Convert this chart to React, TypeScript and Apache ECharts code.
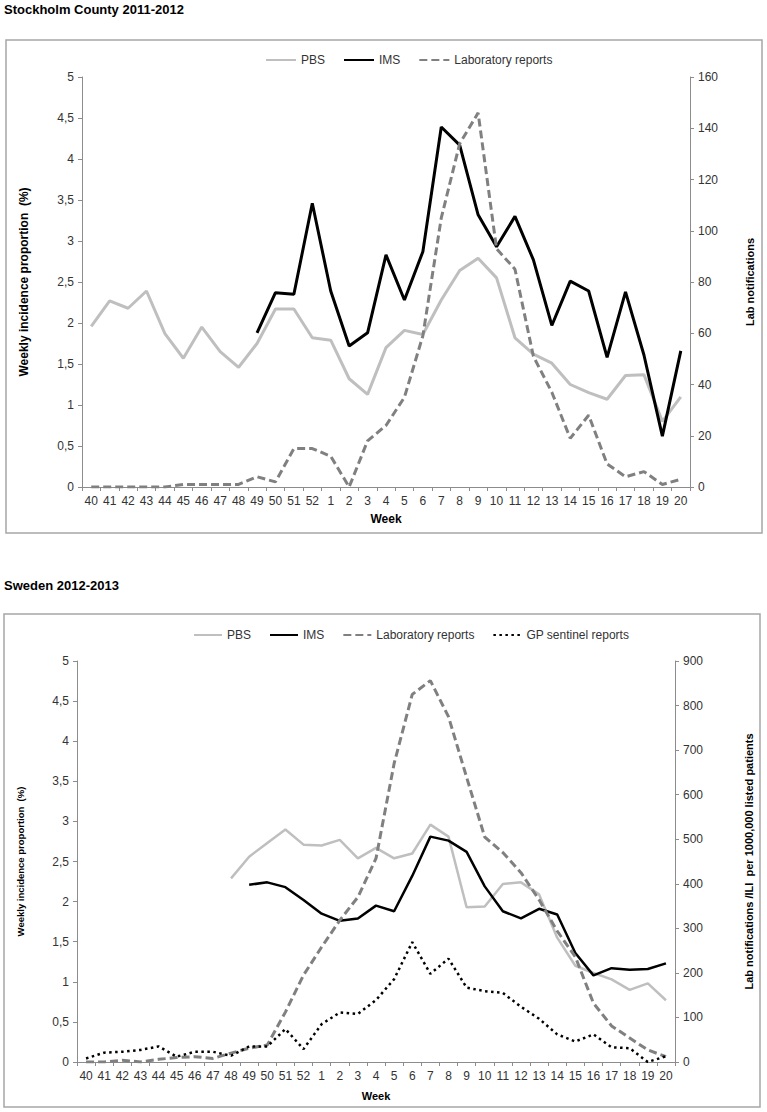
import React, { useEffect, useRef } from "react";
import * as echarts from "echarts";

const weeks = [
  "40", "41", "42", "43", "44", "45", "46", "47", "48", "49", "50", "51", "52",
  "1", "2", "3", "4", "5", "6", "7", "8", "9", "10", "11", "12", "13", "14", "15", "16", "17", "18", "19", "20",
];

// Stockholm County 2011-2012
const stockholmPBS = [
  1.96, 2.27, 2.18, 2.39, 1.87, 1.57, 1.95, 1.65, 1.46, 1.75, 2.17, 2.17, 1.82,
  1.79, 1.32, 1.13, 1.7, 1.91, 1.86, 2.28, 2.64, 2.79, 2.55, 1.82, 1.62, 1.51, 1.25, 1.15, 1.07, 1.36, 1.37, 0.8, 1.1,
];
const stockholmIMS = [
  null, null, null, null, null, null, null, null, null, 1.88, 2.37, 2.35, 3.46,
  2.39, 1.72, 1.88, 2.83, 2.28, 2.87, 4.39, 4.17, 3.32, 2.93, 3.3, 2.77, 1.97, 2.51, 2.39, 1.58, 2.38, 1.61, 0.62, 1.66,
];
const stockholmLab = [
  0, 0, 0, 0, 0, 1, 1, 1, 1, 4, 2, 15, 15,
  12, 0, 18, 24, 35, 59, 105, 134, 146, 93, 85, 51, 37, 19, 28, 9, 4, 6, 1, 3,
];

// Sweden 2012-2013
const swedenPBS = [
  null, null, null, null, null, null, null, null, 2.29, 2.56, 2.73, 2.9, 2.71,
  2.7, 2.77, 2.54, 2.67, 2.54, 2.6, 2.96, 2.81, 1.93, 1.94, 2.22, 2.24, 2.09, 1.55, 1.2, 1.11, 1.03, 0.9, 0.98, 0.77,
];
const swedenIMS = [
  null, null, null, null, null, null, null, null, null, 2.21, 2.24, 2.18, 2.02,
  1.85, 1.76, 1.79, 1.95, 1.88, 2.32, 2.81, 2.76, 2.62, 2.19, 1.88, 1.79, 1.91, 1.84, 1.36, 1.08, 1.17, 1.15, 1.16, 1.23,
];
const swedenLab = [
  0, 0, 4, 0, 6, 10, 12, 8, 20, 31, 38, 112, 195,
  258, 318, 370, 457, 670, 825, 856, 775, 639, 505, 470, 425, 364, 294, 236, 132, 81, 54, 27, 12,
];
const swedenGP = [
  8, 21, 23, 27, 35, 12, 23, 23, 14, 35, 35, 74, 29,
  85, 111, 108, 139, 186, 269, 198, 232, 167, 159, 155, 124, 97, 62, 46, 62, 33, 31, 0, 13,
];

const FONT = "'Liberation Sans', Arial, sans-serif";
const AXIS_COLOR = "#8c8c8c";
const LABEL_COLOR = "#333";

const comma = (v: number) => String(v).replace(".", ",");

function valueAxis(gridIndex: number, opts: any) {
  return {
    type: "value",
    gridIndex,
    min: 0,
    splitLine: { show: false },
    axisLine: { show: true, lineStyle: { color: AXIS_COLOR, width: 1 } },
    axisTick: { show: true, length: 4, lineStyle: { color: AXIS_COLOR } },
    axisLabel: { color: LABEL_COLOR, fontSize: 12, fontFamily: FONT, margin: 8 },
    nameLocation: "middle",
    nameRotate: 90,
    nameTextStyle: { fontWeight: "bold", color: "#000", fontFamily: FONT },
    ...opts,
  };
}

export default function App() {
  const ref = useRef<HTMLDivElement>(null);
  useEffect(() => {
    if (!ref.current) return;
    const chart = echarts.init(ref.current, null, { renderer: "svg" });
    const xAxisBase = (gridIndex: number, gap: number, fs: number) => ({
      type: "category",
      gridIndex,
      data: weeks,
      boundaryGap: true,
      name: "Week",
      nameLocation: "middle",
      nameGap: gap,
      nameTextStyle: { fontWeight: "bold", fontSize: fs, color: "#000", fontFamily: FONT },
      axisLine: { show: true, lineStyle: { color: AXIS_COLOR, width: 1 } },
      axisTick: { show: true, interval: 0, length: 4, lineStyle: { color: AXIS_COLOR } },
      axisLabel: { interval: 0, color: LABEL_COLOR, fontSize: 12, fontFamily: FONT, margin: 8 },
    });
    const legendBase = {
      itemHeight: 12,
      itemGap: 18,
      itemStyle: { opacity: 0 },
      textStyle: { fontSize: 12, color: LABEL_COLOR, fontFamily: FONT },
    };
    const option: any = {
      animation: false,
      backgroundColor: "#fff",
      textStyle: { fontFamily: FONT },
      graphic: [
        {
          type: "text",
          left: 4,
          top: 3,
          style: { text: "Stockholm County 2011-2012", font: `bold 13px ${FONT}`, fill: "#000" },
        },
        {
          type: "rect",
          shape: { x: 6, y: 40, width: 756, height: 493 },
          style: { fill: "none", stroke: "#a6a6a6", lineWidth: 1.5 },
        },
        {
          type: "text",
          left: 4,
          top: 579,
          style: { text: "Sweden 2012-2013", font: `bold 13px ${FONT}`, fill: "#000" },
        },
        {
          type: "rect",
          shape: { x: 4, y: 614, width: 756, height: 493 },
          style: { fill: "none", stroke: "#a6a6a6", lineWidth: 1.5 },
        },
      ],
      legend: [
        {
          ...legendBase,
          left: 260,
          top: 49,
          itemWidth: 30,
          data: ["PBS", "IMS", "Laboratory reports"],
        },
        {
          ...legendBase,
          left: 188,
          top: 624,
          itemWidth: 28,
          data: ["PBS", "IMS", "Laboratory reports", "GP sentinel reports"],
        },
      ],
      grid: [
        { left: 82, top: 77, width: 608, height: 410 },
        { left: 77, top: 661, width: 598, height: 401 },
      ],
      xAxis: [xAxisBase(0, 26, 12), xAxisBase(1, 28, 11)],
      yAxis: [
        valueAxis(0, {
          max: 5,
          interval: 0.5,
          position: "left",
          name: "Weekly incidence proportion  (%)",
          nameGap: 52,
          nameTextStyle: { fontWeight: "bold", fontSize: 12, color: "#000", fontFamily: FONT },
          axisLabel: { color: LABEL_COLOR, fontSize: 12, fontFamily: FONT, margin: 8, formatter: comma },
        }),
        valueAxis(0, {
          max: 160,
          interval: 20,
          position: "right",
          name: "Lab notifications",
          nameGap: 54,
          nameTextStyle: { fontWeight: "bold", fontSize: 11, color: "#000", fontFamily: FONT },
        }),
        valueAxis(1, {
          max: 5,
          interval: 0.5,
          position: "left",
          name: "Weekly incidence proportion  (%)",
          nameGap: 52,
          nameTextStyle: { fontWeight: "bold", fontSize: 9.5, color: "#000", fontFamily: FONT },
          axisLabel: { color: LABEL_COLOR, fontSize: 12, fontFamily: FONT, margin: 8, formatter: comma },
        }),
        valueAxis(1, {
          max: 900,
          interval: 100,
          position: "right",
          name: "Lab notifications /ILI  per 1000,000 listed patients",
          nameGap: 68,
          nameTextStyle: { fontWeight: "bold", fontSize: 11, color: "#000", fontFamily: FONT },
        }),
      ],
      series: [
        {
          name: "PBS",
          type: "line",
          xAxisIndex: 0,
          yAxisIndex: 0,
          data: stockholmPBS,
          symbol: "none",
          color: "#bfbfbf",
          lineStyle: { color: "#bfbfbf", width: 3 },
        },
        {
          name: "IMS",
          type: "line",
          xAxisIndex: 0,
          yAxisIndex: 0,
          data: stockholmIMS,
          symbol: "none",
          color: "#000",
          lineStyle: { color: "#000", width: 3 },
        },
        {
          name: "Laboratory reports",
          type: "line",
          xAxisIndex: 0,
          yAxisIndex: 1,
          data: stockholmLab,
          symbol: "none",
          color: "#808080",
          lineStyle: { color: "#808080", width: 3, type: [8, 4] },
        },
        {
          name: "PBS",
          type: "line",
          xAxisIndex: 1,
          yAxisIndex: 2,
          data: swedenPBS,
          symbol: "none",
          color: "#bfbfbf",
          lineStyle: { color: "#bfbfbf", width: 2.5 },
        },
        {
          name: "IMS",
          type: "line",
          xAxisIndex: 1,
          yAxisIndex: 2,
          data: swedenIMS,
          symbol: "none",
          color: "#000",
          lineStyle: { color: "#000", width: 2.5 },
        },
        {
          name: "Laboratory reports",
          type: "line",
          xAxisIndex: 1,
          yAxisIndex: 3,
          data: swedenLab,
          symbol: "none",
          color: "#808080",
          lineStyle: { color: "#808080", width: 3, type: [8, 4] },
        },
        {
          name: "GP sentinel reports",
          type: "line",
          xAxisIndex: 1,
          yAxisIndex: 3,
          data: swedenGP,
          symbol: "none",
          color: "#000",
          lineStyle: { color: "#000", width: 2.5, type: [2.5, 3.5] },
        },
      ],
    };
    chart.setOption(option);
    return () => chart.dispose();
  }, []);
  return (
    <div
      ref={ref}
      style={{ position: "fixed", left: 0, top: 0, width: 767, height: 1112, background: "#fff" }}
    />
  );
}
